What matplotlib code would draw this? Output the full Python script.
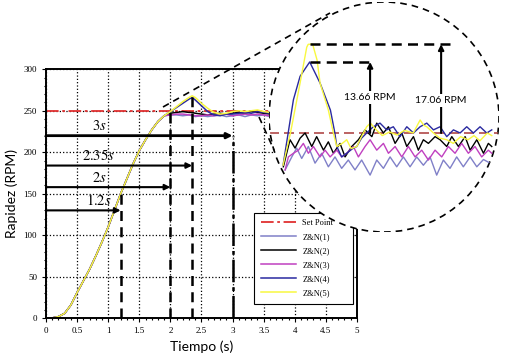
import matplotlib
matplotlib.use('Agg')
import matplotlib.pyplot as plt
from matplotlib.patches import Circle
from matplotlib.lines import Line2D

plt.rcParams['mathtext.fontset'] = 'stix'

# respuesta principal (todas las curvas comparten la subida)
t_rise = [0, 0.1, 0.2, 0.3, 0.4, 0.5, 0.6, 0.7, 0.8, 0.9, 1.0, 1.1, 1.2, 1.3, 1.4, 1.5, 1.6, 1.7, 1.8, 1.9]
rise = [0, 0.5, 2, 6, 16, 31, 45, 59, 75, 92, 110, 130, 150, 168, 186, 202, 215, 227, 237, 244]
t_tail = [2.0, 2.1, 2.2, 2.3, 2.35, 2.4, 2.5, 2.6, 2.7, 2.8, 2.9, 3.0, 3.1, 3.2, 3.3, 3.4, 3.5, 3.6]
tail_zn1 = [245, 245, 244, 245, 244, 243, 244, 243, 244, 245, 243, 244, 245, 243, 245, 244, 245, 243]
tail_zn2 = [247, 248, 249, 248, 248, 247, 246, 245, 246, 247, 246, 247, 248, 247, 249, 248, 247, 246]
tail_zn3 = [245, 246, 246, 245, 245, 244, 244, 245, 244, 245, 246, 244, 245, 246, 245, 246, 245, 244]
tail_zn4 = [249, 254, 259, 264, 266, 263, 256, 249, 245, 244, 246, 246, 247, 248, 247, 249, 248, 247]
tail_zn5 = [249, 255, 261, 266, 268, 266, 259, 253, 248, 246, 247, 249, 250, 249, 250, 251, 249, 248]
set_point = 250
t_end = 3.6

labels = ['Z&N(1)', 'Z&N(2)', 'Z&N(3)', 'Z&N(4)', 'Z&N(5)']
colors = ['#8080c8', '#000000', '#c040c0', '#2a2aa0', '#f8f840']

# tiempos marcados
t_marks = [1.2, 2, 2.35, 3]
y_arrows = [130, 158, 184, 220]
y_vlines = [150, 248, 267, 220]
mark_text = [r'$1.2s$', r'$2s$', r'$2.35s$', r'$3s$']

xticks = [0, 0.5, 1, 1.5, 2, 2.5, 3, 3.5, 4, 4.5, 5]
xtick_labels = ['0', '0.5', '1', '1.5', '2', '2.5', '3', '3.5', '4', '4.5', '5']
yticks = [0, 50, 100, 150, 200, 250, 300]

# detalle ampliado (círculo)
zt1 = [2.214, 2.259, 2.292, 2.326, 2.371, 2.416, 2.461, 2.506, 2.551, 2.596, 2.641, 2.686, 2.731, 2.788, 2.833, 2.878,
       2.923, 2.968, 3.013, 3.058, 3.103, 3.148, 3.193, 3.238, 3.283, 3.328, 3.373, 3.418, 3.464, 3.509, 3.554, 3.599]
zv1 = [242.9, 245.4, 247.1, 245.1, 247.4, 244.2, 246.1, 243.5, 245.4, 243.2, 244.8, 242.9, 244.8, 241.9, 244.8, 243.2,
       245.4, 243.5, 245.4, 243.5, 245.4, 243.8, 245.4, 241.9, 244.8, 243.2, 245.4, 243.5, 245.4, 243.5, 244.9, 244.2]
zt2 = [2.202, 2.247, 2.281, 2.315, 2.349, 2.394, 2.427, 2.473, 2.506, 2.540, 2.585, 2.619, 2.664, 2.709, 2.754, 2.800,
       2.833, 2.878, 2.912, 2.957, 3.002, 3.036, 3.081, 3.114, 3.148, 3.182, 3.227, 3.261, 3.306, 3.340, 3.385, 3.430,
       3.464, 3.509, 3.554, 3.587, 3.610]
zv2 = [243.5, 248.7, 247.1, 249.0, 250.0, 247.4, 249.3, 246.7, 248.3, 246.1, 248.0, 245.4, 247.4, 248.7, 250.6, 249.3,
       251.9, 250.0, 251.2, 248.0, 250.0, 247.4, 249.3, 246.7, 248.7, 248.0, 249.3, 248.7, 247.4, 249.3, 247.4, 249.3,
       246.7, 248.7, 246.1, 248.0, 247.4]
zt3 = [2.214, 2.236, 2.270, 2.304, 2.337, 2.371, 2.405, 2.450, 2.484, 2.518, 2.563, 2.596, 2.630, 2.675, 2.709, 2.754,
       2.788, 2.833, 2.878, 2.912, 2.957, 3.002, 3.047, 3.092, 3.137, 3.182, 3.227, 3.272, 3.317, 3.362, 3.407, 3.452,
       3.497, 3.542, 3.587, 3.610]
zv3 = [242.9, 245.4, 246.1, 246.7, 248.0, 246.1, 247.4, 245.4, 246.7, 245.4, 246.7, 245.4, 246.1, 247.4, 245.4, 247.4,
       248.7, 246.7, 248.0, 246.1, 247.4, 245.4, 247.4, 245.4, 246.7, 244.8, 246.7, 245.4, 247.4, 246.1, 248.0, 246.1,
       247.4, 245.4, 246.7, 246.1]
zt4 = [2.20, 2.27, 2.315, 2.38, 2.45, 2.52, 2.55, 2.563, 2.596, 2.63, 2.67, 2.698, 2.73, 2.765, 2.81, 2.855, 2.90,
       2.945, 2.99, 3.036, 3.081, 3.126, 3.171, 3.216, 3.261, 3.306, 3.351, 3.396, 3.441, 3.486, 3.531, 3.576, 3.61]
zv4 = [243.8, 256.4, 260.9, 263.66, 259.6, 254.4, 250.0, 247.4, 245.4, 246.1, 247.0, 247.4, 249.0, 250.0, 251.2, 251.9,
       250.6, 251.2, 249.3, 251.2, 250.0, 251.2, 251.9, 250.6, 251.2, 249.3, 250.6, 250.0, 251.2, 250.0, 251.2, 250.0, 250.6]
zt5 = [2.20, 2.25, 2.315, 2.36, 2.37, 2.40, 2.43, 2.45, 2.506, 2.54, 2.563, 2.60, 2.63, 2.66, 2.698, 2.73, 2.765, 2.79,
       2.83, 2.87, 2.92, 2.97, 3.02, 3.08, 3.126, 3.15, 3.171, 3.216, 3.26, 3.306, 3.35, 3.40, 3.45, 3.49, 3.53, 3.58, 3.61]
zv5 = [243.8, 250.0, 259.6, 266.5, 267.06, 267.06, 264.0, 259.6, 254.4, 250.0, 247.4, 248.0, 248.7, 247.0, 247.4, 249.3,
       251.2, 251.9, 250.6, 249.5, 250.2, 249.6, 250.5, 250.0, 252.5, 251.5, 251.2, 250.0, 249.0, 248.7, 248.0, 249.3,
       248.7, 249.5, 248.5, 250.0, 249.5]
peak_zn4 = 263.66
peak_zn5 = 267.06

fig = plt.figure(figsize=(5.27, 3.62), dpi=100)
ax = fig.add_axes([0.0873, 0.1207, 0.590, 0.688])

ax.plot([0, t_end], [set_point, set_point], color='#e03030', lw=1.3, ls=(0, (7, 2, 1.5, 2)), label='Set Point')
tails = [tail_zn1, tail_zn2, tail_zn3, tail_zn4, tail_zn5]
for tail, c, lab in zip(tails, colors, labels):
    ax.plot(t_rise + t_tail, rise + tail, color=c, lw=1.1, label=lab)

# flechas y líneas verticales
for tm, ya, yv, txt in zip(t_marks, y_arrows, y_vlines, mark_text):
    lw = 2.0 if tm == 3 else 1.5
    ax.annotate('', xy=(tm, ya), xytext=(0, ya),
                arrowprops=dict(arrowstyle='-|>', color='k', lw=lw, mutation_scale=8, shrinkA=0, shrinkB=0))
    ls = (0, (9, 2, 1.5, 2)) if tm == 3 else (0, (4, 2.5))
    ax.plot([tm, tm], [0, yv], color='k', lw=1.8, ls=ls)
    ax.text(0.85, ya + 3, txt, fontsize=10.5, ha='center', va='bottom')

ax.set_xlim(0, 5)
ax.set_ylim(0, 300)
ax.set_xticks(xticks)
ax.set_xticklabels(xtick_labels)
ax.set_yticks(yticks)
ax.set_xticks([i / 10 for i in range(51)], minor=True)
ax.set_yticks(list(range(0, 301, 10)), minor=True)
ax.tick_params(which='both', direction='out', labelsize=6.5, width=0.8)
ax.tick_params(which='major', length=3)
ax.tick_params(which='minor', length=1.5)
for lab in ax.get_xticklabels() + ax.get_yticklabels():
    lab.set_family('Liberation Serif')
ax.grid(True, color='k', ls=':', lw=0.9)
for s in ax.spines.values():
    s.set_linewidth(1.4)

ax.set_xlabel('Tiempo (s)', family='Lato', fontsize=10)
ax.set_ylabel('Rapidez (RPM)', family='Lato', fontsize=10, labelpad=4)

leg = ax.legend(loc='lower left', bbox_to_anchor=(0.656, 0.041, 0.344, 0.346), mode='expand',
                prop={'family': 'Liberation Serif', 'size': 6}, fancybox=False, edgecolor='k',
                handlelength=4.2, labelspacing=0.72, borderpad=0.8, handletextpad=0.8, framealpha=1)
leg.get_frame().set_linewidth(0.8)

# líneas de conexión al círculo (px de figura)
W, H = 527, 362
for (x0, y0), (x1, y1) in [((163, 107), (330, 13)), ((259, 117), (274, 150))]:
    fig.add_artist(Line2D([x0 / W, x1 / W], [1 - y0 / H, 1 - y1 / H], transform=fig.transFigure,
                          color='k', lw=1.2, ls=(0, (4, 3))))

# círculo ampliado
axz = fig.add_axes([269 / W, 1 - 232 / H, 230 / W, 230 / H])
axz.set_xlim(2.105, 3.659)
axz.set_ylim(230.96, 275.19)
axz.axis('off')
circ = Circle((0.5, 0.5), 0.5, transform=axz.transAxes, facecolor='white', edgecolor='k',
              lw=1.2, ls=(0, (4, 3)), zorder=0)
axz.add_patch(circ)
sp = axz.axhline(set_point, color='#b04848', lw=1.2, ls=(0, (6, 3)))
sp.set_clip_path(circ)
for tz, vz, c in zip([zt1, zt2, zt3, zt4, zt5], [zv1, zv2, zv3, zv4, zv5], colors):
    ln, = axz.plot(tz, vz, color=c, lw=1.0)
    ln.set_clip_path(circ)

axz.plot([2.382, 3.342], [peak_zn5, peak_zn5], color='k', lw=1.8, ls=(0, (4, 2.5)))
axz.plot([2.382, 2.808], [peak_zn4, peak_zn4], color='k', lw=1.8, ls=(0, (4, 2.5)))
for tx, pk, txt, ytxt in [(2.788, peak_zn4, '13.66 RPM', 256.9), (3.268, peak_zn5, '17.06 RPM', 256.3)]:
    axz.annotate('', xy=(tx, pk), xytext=(tx, set_point),
                 arrowprops=dict(arrowstyle='-|>', color='k', lw=1.5, mutation_scale=8, shrinkA=0, shrinkB=0))
    axz.text(tx, ytxt, txt, family='Lato', fontsize=7.5, ha='center', va='center',
             bbox=dict(facecolor='white', edgecolor='none', pad=1.5))

fig.savefig('out.png', dpi=100)
